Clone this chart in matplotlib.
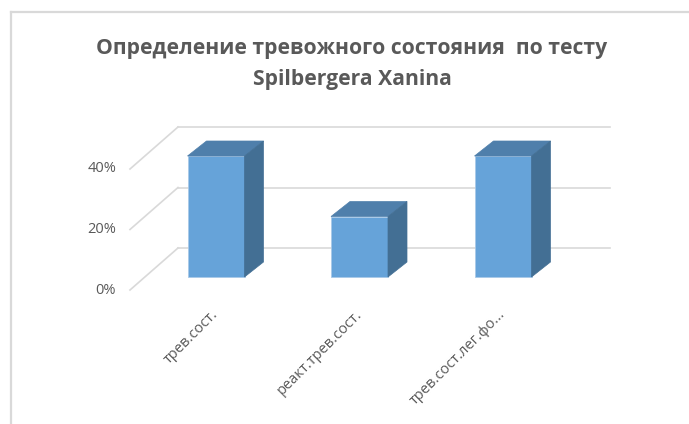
import matplotlib
matplotlib.use('Agg')
import matplotlib.pyplot as plt
from matplotlib.patches import Polygon
from matplotlib.lines import Line2D

plt.rcParams['font.family'] = ['Open Sans', 'DejaVu Sans']

title = 'Определение тревожного состояния  по тесту\nSpilbergera Xanina'
categories = ['трев.сост.', 'реакт.трев.сост.', 'трев.сост.лег.фо...']
values = [40, 20, 40]
ticks = [0, 20, 40]
tick_labels = ['0%', '20%', '40%']

W, H = 689, 424
fig = plt.figure(figsize=(W / 100, H / 100), dpi=100)
ax = fig.add_axes([0, 0, 1, 1])

# pixel layout of the front face plane of the bars
x0_px, step_px = 216, 143.5     # first bar centre, distance between bars
y0_px, unit_px = 277, 121 / 40  # baseline (from top), px per percent
ax.set_xlim(-x0_px / step_px, (W - x0_px) / step_px)
ax.set_ylim((y0_px - H) / unit_px, y0_px / unit_px)
ax.axis('off')

def off(dx_px, dy_px):
    return dx_px / step_px, dy_px / unit_px

bar_w = 57 / step_px
bdx, bdy = off(19, 15)       # bar depth
wdx, wdy = off(33, 29)       # back wall relative to bar front plane
fdx, fdy = off(-15, -13)     # front axis plane
wall_left = (130 - x0_px) / step_px - fdx
wall_right = (610 - x0_px) / step_px - wdx

grid_c = '#d9d9d9'
for t, lab in zip(ticks, tick_labels):
    # back wall line
    ax.plot([wall_left + wdx, wall_right + wdx], [t + wdy, t + wdy], color=grid_c, lw=1.2, zorder=1)
    # side wall line
    ax.plot([wall_left + fdx, wall_left + wdx], [t + fdy, t + wdy], color=grid_c, lw=1.2, zorder=1)
    ax.text(wall_left + fdx - 14 / step_px, t + fdy, lab, ha='right', va='center',
            fontsize=10.5, color='#595959')

front_c, top_c, side_c = '#66a3d9', '#4f7fab', '#436f94'
for i, v in enumerate(values):
    l, r = i - bar_w / 2, i + bar_w / 2
    ax.add_patch(Polygon([(l, 0), (r, 0), (r, v), (l, v)], closed=True,
                         facecolor=front_c, edgecolor='#a9c9e8', lw=0.6, zorder=3))
    ax.add_patch(Polygon([(l, v), (r, v), (r + bdx, v + bdy), (l + bdx, v + bdy)], closed=True,
                         facecolor=top_c, edgecolor=top_c, lw=0.5, zorder=3))
    ax.add_patch(Polygon([(r, 0), (r + bdx, bdy), (r + bdx, v + bdy), (r, v)], closed=True,
                         facecolor=side_c, edgecolor=side_c, lw=0.5, zorder=3))
    ax.text(i - 5 / step_px, fdy - 17 / unit_px, categories[i], rotation=45,
            rotation_mode='anchor', ha='right', va='top', fontsize=10.5, color='#595959')

fig.text(352 / W, 1 - 64 / H, title, ha='center', va='center', fontsize=15.2,
         fontweight='bold', color='#595959', linespacing=1.6)

# chart area border (only top and left visible)
fig.add_artist(Line2D([10.5 / W, 10.5 / W], [0, 1 - 11.5 / H], color=grid_c, lw=1.6))
fig.add_artist(Line2D([10.5 / W, 1], [1 - 11.5 / H, 1 - 11.5 / H], color=grid_c, lw=1.6))

fig.savefig('out.png', dpi=100)
